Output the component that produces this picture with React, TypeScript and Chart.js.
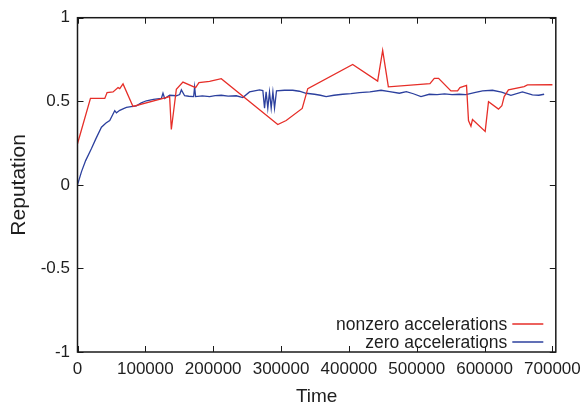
import React, { useEffect, useRef } from "react";
import { Chart, registerables } from "chart.js";

Chart.register(...registerables);

const seriesLabels = ["nonzero accelerations", "zero accelerations"];

const redTime = [
  0, 19100, 40200, 43600, 52400, 59800, 62300, 67100, 81800, 135800,
  138300, 145700, 155400, 174100, 179000, 194700, 211900, 295200, 307600, 331200,
  339400, 405600, 442400, 449800, 458200, 519500, 525900, 532200, 550400, 560200,
  563700, 573400, 576300, 579900, 582200, 600900, 605800, 620500, 625500, 628900,
  635200, 658300, 663200, 700000,
];
const redRep = [
  0.246, 0.517, 0.517, 0.552, 0.556, 0.582, 0.576, 0.604, 0.469, 0.528,
  0.331, 0.572, 0.615, 0.582, 0.611, 0.619, 0.635, 0.361, 0.385, 0.457,
  0.576, 0.72, 0.621, 0.805, 0.586, 0.605, 0.637, 0.637, 0.562, 0.562,
  0.582, 0.595, 0.385, 0.351, 0.391, 0.32, 0.497, 0.453, 0.473, 0.528,
  0.568, 0.588, 0.598, 0.599,
];

const blueTime = [
  0, 5900, 12000, 20600, 27000, 35300, 42000, 47500, 52400, 54900,
  57400, 62300, 67100, 72100, 79000, 86800, 94000, 101600, 112000, 123600,
  126000, 128500, 135800, 145700, 150600, 153100, 157900, 164000, 171200, 172600,
  174100, 184000, 194700, 203000, 211900, 222000, 234000, 243700, 253600, 268300,
  273200, 275700, 278000, 280500, 283000, 285500, 288000, 290400, 293300, 305000,
  317300, 327000, 337000, 349300, 358000, 366500, 378000, 390900, 403000, 415500,
  431000, 447400, 460000, 474400, 484700, 495000, 506300, 518500, 530000, 541000,
  552000, 562700, 572500, 585000, 597000, 611700, 625000, 638800, 655800, 670500,
  680000, 687800,
];
const blueRep = [
  0, 0.079, 0.145, 0.217, 0.275, 0.345, 0.37, 0.385, 0.424, 0.444,
  0.431, 0.446, 0.455, 0.463, 0.468, 0.473, 0.49, 0.503, 0.512, 0.517,
  0.548, 0.517, 0.536, 0.533, 0.54, 0.568, 0.533, 0.53, 0.528, 0.586,
  0.528, 0.532, 0.528, 0.534, 0.536, 0.531, 0.533, 0.522, 0.556, 0.568,
  0.564, 0.459, 0.556, 0.459, 0.556, 0.459, 0.556, 0.459, 0.562, 0.566,
  0.566, 0.56, 0.548, 0.542, 0.536, 0.528, 0.536, 0.542, 0.546, 0.552,
  0.556, 0.566, 0.558, 0.548, 0.558, 0.545, 0.528, 0.542, 0.54, 0.544,
  0.54, 0.542, 0.54, 0.552, 0.562, 0.566, 0.555, 0.536, 0.556, 0.538,
  0.536, 0.542,
];

const xTicks = [0, 100000, 200000, 300000, 400000, 500000, 600000, 700000];
const yTicks = [-1, -0.5, 0, 0.5, 1];

const FONT = "'Liberation Sans', Arial, Helvetica, sans-serif";
const TEXT = "#1e1e1e";
const RED = "#e62e28";
const BLUE = "#2c409e";

const framePlugin = {
  id: "frame",
  afterDatasetsDraw(chart: any) {
    const { ctx, chartArea: a, scales } = chart;
    ctx.save();
    ctx.strokeStyle = "#1a1a1a";
    ctx.lineWidth = 1.5;
    ctx.strokeRect(a.left, a.top, a.right - a.left, a.bottom - a.top);
    const L = 6;
    ctx.lineWidth = 1;
    ctx.beginPath();
    xTicks.forEach((v) => {
      const x = Math.round(scales.x.getPixelForValue(v)) + 0.5;
      ctx.moveTo(x, a.bottom);
      ctx.lineTo(x, a.bottom - L);
      ctx.moveTo(x, a.top);
      ctx.lineTo(x, a.top + L);
    });
    yTicks.forEach((v) => {
      const y = Math.round(scales.y.getPixelForValue(v)) + 0.5;
      ctx.moveTo(a.left, y);
      ctx.lineTo(a.left + L, y);
      ctx.moveTo(a.right, y);
      ctx.lineTo(a.right - L, y);
    });
    ctx.stroke();

    // legend inside the plot, text right-aligned followed by a line sample
    ctx.font = `17.5px ${FONT}`;
    ctx.textAlign = "right";
    ctx.textBaseline = "middle";
    const rows = [a.bottom - 28, a.bottom - 10];
    chart.data.datasets.forEach((ds: any, i: number) => {
      const y = rows[i];
      ctx.fillStyle = TEXT;
      ctx.fillText(ds.label, a.right - 48.5, y + 1);
      ctx.strokeStyle = ds.borderColor;
      ctx.lineWidth = 1.5;
      ctx.beginPath();
      ctx.moveTo(a.right - 43.5, y);
      ctx.lineTo(a.right - 12.5, y);
      ctx.stroke();
    });
    ctx.restore();
  },
};

export default function App() {
  const ref = useRef<HTMLCanvasElement | null>(null);

  useEffect(() => {
    if (!ref.current) return;
    const chart = new Chart(ref.current, {
      type: "line",
      data: {
        datasets: [
          {
            label: seriesLabels[0],
            data: redTime.map((t, i) => ({ x: t, y: redRep[i] })),
            borderColor: RED,
            borderWidth: 1.3,
            pointRadius: 0,
            tension: 0,
            fill: false,
          },
          {
            label: seriesLabels[1],
            data: blueTime.map((t, i) => ({ x: t, y: blueRep[i] })),
            borderColor: BLUE,
            borderWidth: 1.3,
            pointRadius: 0,
            tension: 0,
            fill: false,
          },
        ],
      },
      options: {
        animation: false,
        responsive: true,
        maintainAspectRatio: false,
        layout: { padding: { top: 14, right: 31, bottom: 0, left: 0 } },
        plugins: {
          legend: { display: false },
          tooltip: { enabled: false },
        },
        scales: {
          x: {
            type: "linear",
            min: 0,
            max: 705000,
            afterBuildTicks: (s: any) => {
              s.ticks = xTicks.map((v) => ({ value: v }));
            },
            afterFit: (s: any) => {
              s.height = 56;
            },
            grid: { display: false, drawTicks: false },
            border: { display: false },
            ticks: {
              autoSkip: false,
              maxRotation: 0,
              padding: 7,
              color: TEXT,
              font: { family: FONT, size: 17 },
              callback: (v: any) => String(v),
            },
            title: {
              display: true,
              text: "Time",
              color: TEXT,
              font: { family: FONT, size: 19 },
              padding: { top: 0, bottom: 0 },
            },
          },
          y: {
            type: "linear",
            min: -1,
            max: 1,
            afterBuildTicks: (s: any) => {
              s.ticks = yTicks.map((v) => ({ value: v }));
            },
            afterFit: (s: any) => {
              s.width = 77.5;
            },
            grid: { display: false, drawTicks: false },
            border: { display: false },
            ticks: {
              padding: 7.5,
              color: TEXT,
              font: { family: FONT, size: 17 },
              callback: (v: any) => String(v),
            },
            title: {
              display: true,
              text: "Reputation",
              color: TEXT,
              font: { family: FONT, size: 21 },
              padding: { top: 7, bottom: 0 },
            },
          },
        },
      },
      plugins: [framePlugin],
    });
    return () => chart.destroy();
  }, []);

  return (
    <div style={{ position: "absolute", left: 0, top: 0, width: 588, height: 408 }}>
      <canvas ref={ref} />
    </div>
  );
}
